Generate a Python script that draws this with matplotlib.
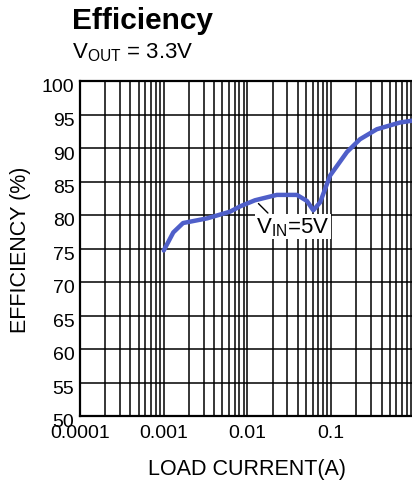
import numpy as np
import matplotlib.pyplot as plt
import matplotlib.transforms as mtransforms
from matplotlib.ticker import FixedLocator, LogLocator, NullFormatter

plt.rcParams['font.family'] = ['Liberation Sans', 'DejaVu Sans']
plt.rcParams['mathtext.fontset'] = 'custom'
plt.rcParams['mathtext.rm'] = 'Liberation Sans'

# load current (A) and efficiency (%), VIN = 5V
load_current = [0.001, 0.0013, 0.0017, 0.0033, 0.0062, 0.0082, 0.0123, 0.0224,
                0.0389, 0.0512, 0.061, 0.0737, 0.097, 0.154, 0.22, 0.35, 0.66, 0.95]
efficiency = [74.7, 77.4, 78.8, 79.5, 80.5, 81.3, 82.2, 83.0,
              83.0, 82.1, 80.7, 81.9, 85.9, 89.4, 91.3, 92.8, 93.8, 94.1]

x_ticks = [0.0001, 0.001, 0.01, 0.1]
x_tick_labels = ['0.0001', '0.001', '0.01', '0.1']
y_ticks = list(range(50, 101, 5))

W, H = 412, 481
fig = plt.figure(figsize=(W / 100, H / 100), dpi=100)
ax = fig.add_axes([80 / W, (H - 417) / H, (415 - 80) / W, (417 - 82) / H])

ax.plot(load_current, efficiency, color='#4f5fc9', lw=3.2, solid_capstyle='round', zorder=3)

ax.set_xscale('log')
ax.set_xlim(1e-4, 1)
ax.set_ylim(50, 100)
ax.xaxis.set_major_locator(FixedLocator(x_ticks))
ax.set_xticklabels(x_tick_labels)
ax.xaxis.set_minor_locator(LogLocator(base=10, subs=np.arange(2, 10)))
ax.xaxis.set_minor_formatter(NullFormatter())
ax.set_yticks(y_ticks)

ax.grid(True, which='both', axis='x', color='black', lw=1.1)
ax.grid(True, which='major', axis='y', color='black', lw=1.1)
ax.tick_params(which='both', length=0, labelsize=14)
ax.tick_params(axis='x', pad=6)
ax.tick_params(axis='y', pad=4)
# y labels sit a few pixels below their grid lines in the original
shift = mtransforms.ScaledTranslation(0, -4 / 100, fig.dpi_scale_trans)
for lbl in ax.get_yticklabels():
    lbl.set_transform(lbl.get_transform() + shift)
for s in ax.spines.values():
    s.set_linewidth(1.6)

ax.set_xlabel('LOAD CURRENT(A)', fontsize=15.5, labelpad=12)
ax.set_ylabel('EFFICIENCY (%)', fontsize=15.5, labelpad=8)

# VIN label with leader line
ax.annotate('', xy=(0.0128, 82.0), xytext=(0.0185, 80.0),
            arrowprops=dict(arrowstyle='-', color='black', lw=1))
ax.text(0.0128, 78.3, r'V$_{\mathregular{IN}}$=5V', fontsize=16, ha='left', va='center',
        bbox=dict(facecolor='white', edgecolor='none', pad=1), zorder=4)

fig.text(72 / W, 1 - 21 / H, 'Efficiency', fontsize=21.5, fontweight='bold', va='center')
fig.text(72 / W, 1 - 53 / H, r'V$_{\mathregular{OUT}}$ = 3.3V', fontsize=16, va='center')

fig.savefig('out.png', dpi=100)
